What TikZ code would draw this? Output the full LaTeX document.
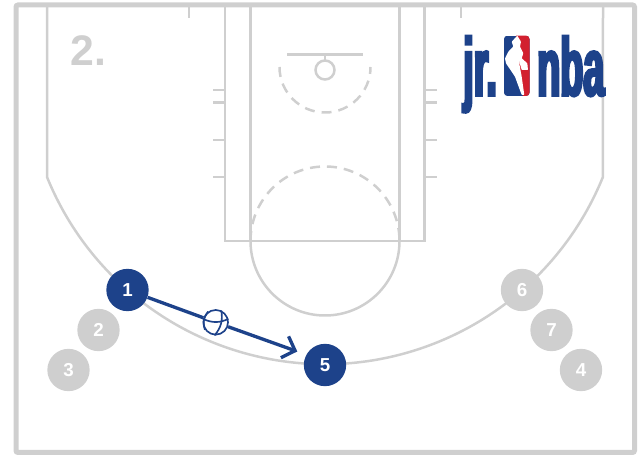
\documentclass[tikz,border=0pt]{standalone}
\definecolor{JRblue}{HTML}{1D428A}
\definecolor{JRred}{HTML}{D2202F}
\definecolor{JRgray}{HTML}{CFCFCF}
\usepackage{fontspec}
\setmainfont{Liberation Sans}
\newfontfamily\logofont[FakeStretch=0.46,FakeBold=3.2]{Liberation Sans Bold}
\usetikzlibrary{arrows.meta, positioning}
\tikzset{
   court/.style={JRgray, line width=0.075cm},
   courtdash/.style={court, dash pattern=on 0.3cm off 0.21cm},
   player/.style={circle, minimum size=1.27cm, inner sep=0pt, font=\fontsize{16}{16}\selectfont\bfseries, text=white},
   active/.style={player, fill=JRblue},
   idle/.style={player, fill=JRgray},
   pass/.style={JRblue, line width=0.1cm},
   logotext/.style={anchor=base west, inner sep=0pt, text=JRblue, font=\logofont\fontsize{70}{70}\selectfont}
}

\begin{document}
\begin{tikzpicture}[x=0.03cm, y=0.03cm]
   \useasboundingbox (0,0) rectangle (639,455);
   % Sidelines and three point arc
   \draw[court] (47,450) -- (47,278) arc[start angle=202.1, end angle=337.9, radius=9cm] -- (603,450);
   % Lane, outer and inner
   \draw[court] (225,450) -- (225,214) -- (424.5,214) -- (424.5,450);
   \draw[court] (250.5,450) -- (250.5,214);
   \draw[court] (399.5,450) -- (399.5,214);
   % Free throw circle
   \draw[court] (250.5,214) arc[start angle=180, end angle=360, radius=2.235cm];
   \draw[courtdash] (250.5,214) arc[start angle=180, end angle=0, radius=2.235cm];
   % Lane marks
   \foreach \y in {365,352.3,315,278} {
      \draw[court] (213,\y) -- (225,\y);
      \draw[court] (424.5,\y) -- (436.5,\y);
   }
   % Top ticks
   \draw[court] (189,450) -- (189,437);
   \draw[court] (461,450) -- (461,437);
   % Backboard, hoop, restricted arc
   \draw[court] (287,400.7) -- (363,400.7);
   \draw[court] (325,400.7) -- (325,394.5);
   \draw[court] (325,385) circle (0.285cm);
   \draw[courtdash] (279.5,388) arc[start angle=180, end angle=360, radius=1.365cm];
   % Frame
   \draw[JRgray, line width=0.15cm, rounded corners=0.06cm] (16,2.5) rectangle (634.5,450);
   % Step number
   \node[anchor=base west, inner sep=0pt, text=JRgray, font=\fontsize{36.5}{36.5}\selectfont\bfseries] (stepnum) at (70,389) {2.};
   % Logo
   \node[logotext] (logojr) at (463,359.5) {jr.};
   \node[logotext] (logonba) at (537,359.5) {nba};
   \begin{scope}
      \clip[rounded corners=0.1cm] (504,359) rectangle (529.5,419.3);
      \fill[JRblue] (504,359) rectangle (529.5,419.3);
      \fill[JRred] (516,419.3) -- (530,419.3) -- (530,359) -- (523,359) -- (516,385) -- cycle;
      \fill[white, rounded corners=0.02cm] (517.3,419.3) -- (521,413.3) -- (520,408.3) -- (523.3,401.7)
         -- (521.7,396.7) -- (527.3,391.7) -- (528,385) -- (521.7,385) -- (518.3,396.7)
         -- (521.7,378.3) -- (524.3,360) -- (521.7,360) -- (515,378.3) -- (506,391.7)
         -- (505,396.7) -- (508.3,403.3) -- (513.3,408.3) -- (511.7,413.3) -- cycle;
   \end{scope}
   % Players
   \node[idle] (p2) at (98.5,125) {2};
   \node[idle] (p3) at (68.5,85) {3};
   \node[idle] (p6) at (522,165) {6};
   \node[idle] (p7) at (551.5,125) {7};
   \node[idle] (p4) at (581,85) {4};
   \node[active] (p1) at (127.5,165) {1};
   \node[active] (p5) at (325,90) {5};
   % Ball and pass
   \node[circle, draw=JRblue, fill=white, line width=0.05cm, minimum size=0.74cm, inner sep=0pt] (ball) at (215.7,132.7) {};
   \draw[JRblue, line width=0.05cm] (ball.165) to[bend right=25] (ball.15);
   \draw[JRblue, line width=0.05cm] (ball.65) to[bend left=25] (ball.265);
   \draw[JRblue, line width=0.05cm] (ball.125) to[bend right=30] (ball.215);
   \coordinate (passend) at (297.3,103.5);
   \draw[pass] (p1) -- (ball);
   \draw[pass, -{Straight Barb[length=0.33cm, width=0.68cm]}] (ball) -- (passend);
\end{tikzpicture}
\end{document}
